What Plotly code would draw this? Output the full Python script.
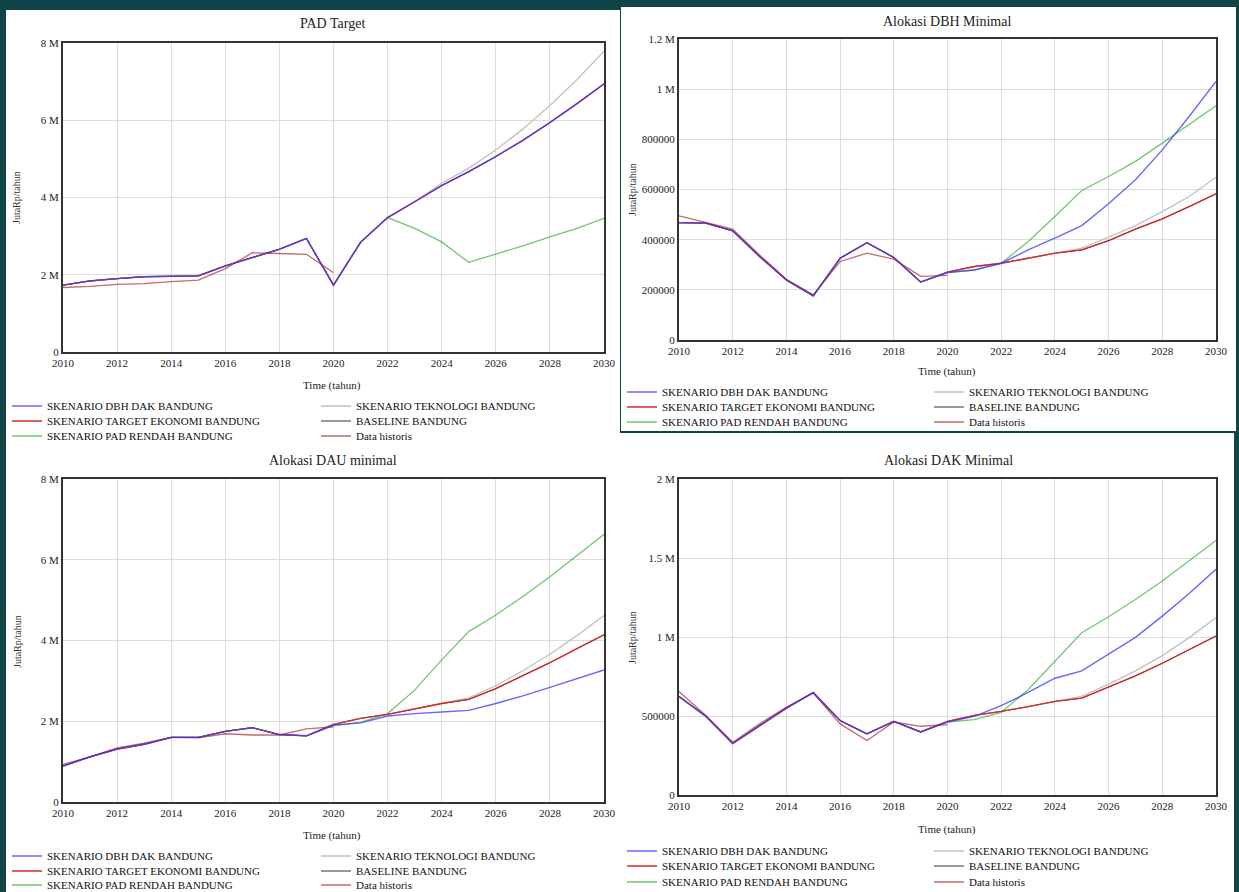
import plotly.graph_objects as go

W, H = 1239, 892

years = list(range(2010, 2031))
years_hist = list(range(2010, 2021))

# ---------------- PAD Target (JutaRp/tahun) ----------------
pad_dbh_dak = [1.73e6, 1.84e6, 1.90e6, 1.95e6, 1.96e6, 1.97e6, 2.23e6, 2.44e6, 2.66e6, 2.94e6, 1.73e6,
               2.84e6, 3.48e6, 3.89e6, 4.31e6, 4.67e6, 5.06e6, 5.48e6, 5.94e6, 6.43e6, 6.94e6]
pad_target = [1.73e6, 1.84e6, 1.90e6, 1.95e6, 1.96e6, 1.97e6, 2.23e6, 2.44e6, 2.66e6, 2.94e6, 1.73e6,
              2.84e6, 3.48e6, 3.89e6, 4.31e6, 4.67e6, 5.06e6, 5.48e6, 5.94e6, 6.43e6, 6.94e6]
pad_baseline = [1.73e6, 1.84e6, 1.90e6, 1.95e6, 1.96e6, 1.97e6, 2.23e6, 2.44e6, 2.66e6, 2.94e6, 1.73e6,
                2.84e6, 3.48e6, 3.89e6, 4.31e6, 4.67e6, 5.06e6, 5.48e6, 5.94e6, 6.43e6, 6.94e6]
pad_teknologi = [1.73e6, 1.84e6, 1.90e6, 1.95e6, 1.96e6, 1.97e6, 2.23e6, 2.44e6, 2.66e6, 2.94e6, 1.73e6,
                 2.84e6, 3.48e6, 3.89e6, 4.37e6, 4.76e6, 5.23e6, 5.77e6, 6.38e6, 7.05e6, 7.79e6]
pad_rendah = [1.73e6, 1.84e6, 1.90e6, 1.95e6, 1.96e6, 1.97e6, 2.23e6, 2.44e6, 2.66e6, 2.94e6, 1.73e6,
              2.84e6, 3.48e6, 3.20e6, 2.85e6, 2.32e6, 2.53e6, 2.75e6, 2.98e6, 3.20e6, 3.46e6]
pad_hist = [1.67e6, 1.70e6, 1.75e6, 1.77e6, 1.82e6, 1.86e6, 2.16e6, 2.57e6, 2.55e6, 2.53e6, 2.05e6]

# ---------------- Alokasi DBH Minimal ----------------
dbh_dbh_dak = [468000, 466000, 435000, 333000, 239000, 176000, 326000, 388000, 329000, 231000, 269000,
               279000, 306000, 359000, 406000, 456000, 543000, 639000, 758000, 891000, 1031000]
dbh_target = [468000, 466000, 435000, 333000, 239000, 176000, 326000, 388000, 329000, 231000, 271000,
              293000, 306000, 326000, 346000, 359000, 396000, 442000, 483000, 532000, 583000]
dbh_baseline = [468000, 466000, 435000, 333000, 239000, 176000, 326000, 388000, 329000, 231000, 271000,
                293000, 306000, 326000, 346000, 359000, 396000, 442000, 483000, 532000, 583000]
dbh_teknologi = [468000, 466000, 435000, 333000, 239000, 176000, 326000, 388000, 329000, 231000, 271000,
                 293000, 306000, 326000, 346000, 366000, 410000, 456000, 512000, 572000, 649000]
dbh_rendah = [468000, 466000, 435000, 333000, 239000, 176000, 326000, 388000, 329000, 231000, 269000,
              279000, 306000, 392000, 492000, 596000, 652000, 712000, 785000, 858000, 934000]
dbh_hist = [495000, 470000, 442000, 339000, 242000, 180000, 313000, 346000, 322000, 254000, 258000]

# ---------------- Alokasi DAU minimal ----------------
dau_dbh_dak = [0.89e6, 1.12e6, 1.31e6, 1.43e6, 1.60e6, 1.60e6, 1.75e6, 1.84e6, 1.67e6, 1.64e6, 1.90e6,
               1.96e6, 2.13e6, 2.19e6, 2.23e6, 2.27e6, 2.44e6, 2.63e6, 2.84e6, 3.06e6, 3.27e6]
dau_target = [0.89e6, 1.12e6, 1.31e6, 1.43e6, 1.60e6, 1.60e6, 1.75e6, 1.84e6, 1.67e6, 1.64e6, 1.92e6,
              2.07e6, 2.17e6, 2.31e6, 2.44e6, 2.54e6, 2.81e6, 3.13e6, 3.45e6, 3.80e6, 4.14e6]
dau_baseline = [0.89e6, 1.12e6, 1.31e6, 1.43e6, 1.60e6, 1.60e6, 1.75e6, 1.84e6, 1.67e6, 1.64e6, 1.92e6,
                2.07e6, 2.17e6, 2.31e6, 2.44e6, 2.54e6, 2.81e6, 3.13e6, 3.45e6, 3.80e6, 4.14e6]
dau_teknologi = [0.89e6, 1.12e6, 1.31e6, 1.43e6, 1.60e6, 1.60e6, 1.75e6, 1.84e6, 1.67e6, 1.64e6, 1.92e6,
                 2.07e6, 2.17e6, 2.31e6, 2.44e6, 2.58e6, 2.88e6, 3.25e6, 3.66e6, 4.12e6, 4.62e6]
dau_rendah = [0.89e6, 1.12e6, 1.31e6, 1.43e6, 1.60e6, 1.60e6, 1.75e6, 1.84e6, 1.67e6, 1.64e6, 1.90e6,
              1.97e6, 2.19e6, 2.77e6, 3.52e6, 4.22e6, 4.63e6, 5.09e6, 5.58e6, 6.10e6, 6.63e6]
dau_hist = [0.93e6, 1.12e6, 1.34e6, 1.46e6, 1.60e6, 1.59e6, 1.69e6, 1.66e6, 1.66e6, 1.81e6, 1.86e6]

# ---------------- Alokasi DAK Minimal ----------------
dak_dbh_dak = [624000, 498000, 326000, 439000, 550000, 649000, 471000, 387000, 466000, 399000, 462000,
               498000, 565000, 649000, 739000, 786000, 891000, 998000, 1132000, 1275000, 1429000]
dak_target = [624000, 498000, 326000, 439000, 550000, 649000, 471000, 387000, 466000, 399000, 466000,
              504000, 529000, 559000, 592000, 613000, 683000, 754000, 834000, 918000, 1006000]
dak_baseline = [624000, 498000, 326000, 439000, 550000, 649000, 471000, 387000, 466000, 399000, 466000,
                504000, 529000, 559000, 592000, 613000, 683000, 754000, 834000, 918000, 1006000]
dak_teknologi = [624000, 498000, 326000, 439000, 550000, 649000, 471000, 387000, 466000, 399000, 466000,
                 504000, 529000, 559000, 592000, 624000, 702000, 786000, 882000, 996000, 1122000]
dak_rendah = [624000, 498000, 326000, 439000, 550000, 649000, 471000, 387000, 466000, 399000, 462000,
              477000, 523000, 666000, 849000, 1027000, 1128000, 1237000, 1355000, 1481000, 1611000]
dak_hist = [655000, 504000, 334000, 450000, 557000, 645000, 450000, 345000, 462000, 435000, 445000]

# ---------------- labels ----------------
panel_titles = ["PAD Target", "Alokasi DBH Minimal", "Alokasi DAU minimal", "Alokasi DAK Minimal"]
x_title = "Time (tahun)"
y_title = "JutaRp/tahun"
x_tickvals = [2010, 2012, 2014, 2016, 2018, 2020, 2022, 2024, 2026, 2028, 2030]

tickvals_8m = [0, 2e6, 4e6, 6e6, 8e6]
ticktext_8m = ["0", "2 M", "4 M", "6 M", "8 M"]
tickvals_dbh = [0, 200000, 400000, 600000, 800000, 1e6, 1.2e6]
ticktext_dbh = ["0", "200000", "400000", "600000", "800000", "1 M", "1.2 M"]
tickvals_dak = [0, 500000, 1e6, 1.5e6, 2e6]
ticktext_dak = ["0", "500000", "1 M", "1.5 M", "2 M"]

names = {
    "dbh_dak": "SKENARIO DBH DAK BANDUNG",
    "target": "SKENARIO TARGET EKONOMI BANDUNG",
    "rendah": "SKENARIO PAD RENDAH BANDUNG",
    "teknologi": "SKENARIO TEKNOLOGI BANDUNG",
    "baseline": "BASELINE BANDUNG",
    "hist": "Data historis",
}

# ---------------- styling ----------------
FONT = "Liberation Serif"
BG = "#0f4547"
colors = {
    "baseline": "rgb(0,0,0)",
    "teknologi": "rgb(192,192,192)",
    "rendah": "rgba(0,150,0,0.55)",
    "target": "rgb(212,40,40)",
    "hist": "rgba(150,0,0,0.58)",
    "dbh_dak": "rgba(60,60,255,0.78)",
}
widths = {"baseline": 0.8, "teknologi": 1.3, "rendah": 1.3, "target": 1.3, "hist": 1.3, "dbh_dak": 1.4}
draw_order = ["baseline", "teknologi", "rendah", "target", "hist", "dbh_dak"]
legend_slot = {  # (column, row)
    "dbh_dak": (0, 0), "target": (0, 1), "rendah": (0, 2),
    "teknologi": (1, 0), "baseline": (1, 1), "hist": (1, 2),
}


def px(x):
    return x / W


def py(y):
    return 1 - y / H


panels = [
    dict(data={"dbh_dak": pad_dbh_dak, "target": pad_target, "baseline": pad_baseline,
               "teknologi": pad_teknologi, "rendah": pad_rendah, "hist": pad_hist},
         plot=(63, 604, 43, 352), yrange=[0, 8e6], tv=tickvals_8m, tt=ticktext_8m,
         title=(332, 24), xt=(332, 385), yt=(17, 198),
         leg_x=(7, 316), leg_y=(406, 421, 436)),
    dict(data={"dbh_dak": dbh_dbh_dak, "target": dbh_target, "baseline": dbh_baseline,
               "teknologi": dbh_teknologi, "rendah": dbh_rendah, "hist": dbh_hist},
         plot=(679, 1216, 39, 340), yrange=[0, 1.2e6], tv=tickvals_dbh, tt=ticktext_dbh,
         title=(947, 21), xt=(947, 371), yt=(632, 190),
         leg_x=(622, 929), leg_y=(392, 407, 422)),
    dict(data={"dbh_dak": dau_dbh_dak, "target": dau_target, "baseline": dau_baseline,
               "teknologi": dau_teknologi, "rendah": dau_rendah, "hist": dau_hist},
         plot=(63, 604, 479, 802), yrange=[0, 8e6], tv=tickvals_8m, tt=ticktext_8m,
         title=(333, 460), xt=(332, 835), yt=(17, 642),
         leg_x=(7, 316), leg_y=(856, 871, 885)),
    dict(data={"dbh_dak": dak_dbh_dak, "target": dak_target, "baseline": dak_baseline,
               "teknologi": dak_teknologi, "rendah": dak_rendah, "hist": dak_hist},
         plot=(679, 1216, 479, 795), yrange=[0, 2e6], tv=tickvals_dak, tt=ticktext_dak,
         title=(948, 460), xt=(947, 829), yt=(632, 638),
         leg_x=(622, 929), leg_y=(851, 866, 882)),
]

fig = go.Figure()
layout = dict(
    width=W, height=H,
    margin=dict(l=0, r=0, t=0, b=0, autoexpand=False),
    paper_bgcolor=BG, plot_bgcolor="white",
    font=dict(family=FONT, size=11, color="#222"),
    showlegend=True,
    shapes=[], annotations=[],
)

# white panel cards
cards = [(6, 620, 10, 446), (621, 1236, 7, 431), (6, 620, 445, 892), (620, 1234, 433, 892)]
for x0, x1, y0, y1 in cards:
    layout["shapes"].append(dict(type="rect", xref="paper", yref="paper", layer="below",
                                 x0=px(x0), x1=px(x1), y0=py(y1), y1=py(y0),
                                 fillcolor="white", line=dict(width=0)))

leg_count = 0
for i, p in enumerate(panels):
    n = "" if i == 0 else str(i + 1)
    x0, x1, y0, y1 = p["plot"]
    layout["xaxis" + n] = dict(
        domain=[px(x0), px(x1)], anchor="y" + n, range=[2010, 2030],
        tickvals=x_tickvals, ticktext=[str(v) for v in x_tickvals],
        showgrid=True, gridcolor="#dcdcdc", gridwidth=1, zeroline=False,
        showline=True, mirror=True, linecolor="#333", linewidth=2, ticks="",
        tickfont=dict(family=FONT, size=11, color="#222"), fixedrange=True,
    )
    layout["yaxis" + n] = dict(
        domain=[py(y1), py(y0)], anchor="x" + n, range=p["yrange"],
        tickvals=p["tv"], ticktext=p["tt"],
        showgrid=True, gridcolor="#dcdcdc", gridwidth=1, zeroline=False,
        showline=True, mirror=True, linecolor="#333", linewidth=2, ticks="",
        tickfont=dict(family=FONT, size=11, color="#222"), fixedrange=True,
    )
    for key in draw_order:
        vals = p["data"][key]
        xs = years_hist if key == "hist" else years
        leg_count += 1
        lid = "legend" if leg_count == 1 else "legend%d" % leg_count
        col, row = legend_slot[key]
        layout[lid] = dict(
            x=px(p["leg_x"][col]), xanchor="left",
            y=py(p["leg_y"][row]), yanchor="middle",
            bgcolor="rgba(0,0,0,0)", borderwidth=0,
            font=dict(family=FONT, size=11, color="#111"),
            itemclick=False, itemdoubleclick=False,
        )
        fig.add_trace(go.Scatter(
            x=xs, y=vals, mode="lines", name=names[key],
            line=dict(color=colors[key], width=widths[key]),
            xaxis="x" + n, yaxis="y" + n, legend=lid, showlegend=True,
            hoverinfo="x+y+name",
        ))
    tx, ty = p["title"]
    layout["annotations"].append(dict(text=panel_titles[i], x=px(tx), y=py(ty), xref="paper", yref="paper",
                                      showarrow=False, xanchor="center", yanchor="middle",
                                      font=dict(family=FONT, size=14, color="#222")))
    ax_, ay_ = p["xt"]
    layout["annotations"].append(dict(text=x_title, x=px(ax_), y=py(ay_), xref="paper", yref="paper",
                                      showarrow=False, xanchor="center", yanchor="middle",
                                      font=dict(family=FONT, size=11, color="#222")))
    bx, by = p["yt"]
    layout["annotations"].append(dict(text=y_title, x=px(bx), y=py(by), xref="paper", yref="paper",
                                      showarrow=False, xanchor="center", yanchor="middle", textangle=-90,
                                      font=dict(family=FONT, size=10, color="#333")))

fig.update_layout(**layout)

fig.write_html(
    "out.html",
    config={"displayModeBar": False},
    post_script="document.body.style.margin='0';document.body.style.overflow='hidden';"
                "document.body.style.background='%s';" % BG,
)
